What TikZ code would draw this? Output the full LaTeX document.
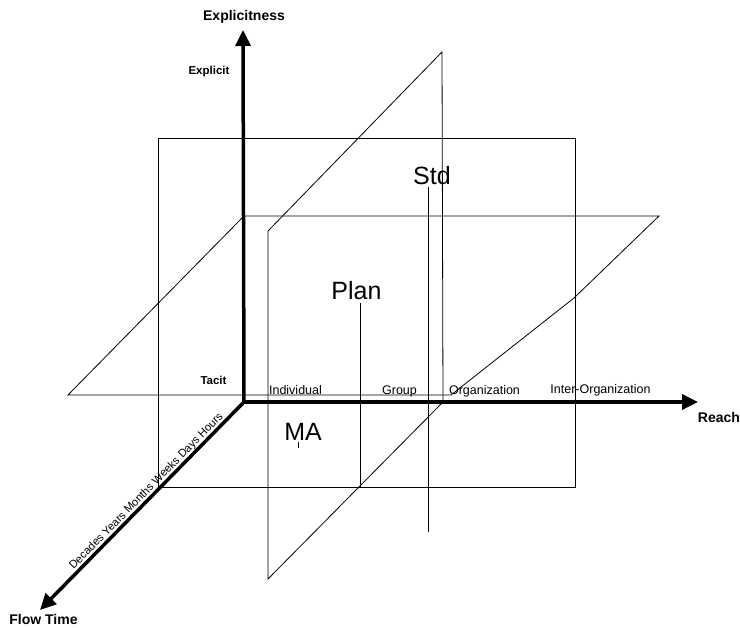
\documentclass[tikz,border=0pt]{standalone}
\usepackage{fontspec}
\setmainfont{Liberation Sans}
\usetikzlibrary{arrows.meta}
\begin{document}
\begin{tikzpicture}[x=1pt,y=-1pt,
  plane/.style={line width=0.8pt, line join=miter},
  axisline/.style={line width=3.5pt, -{Triangle[length=16pt,width=15pt]}},
  tick/.style={font=\fontsize{12.5}{14}\selectfont, inner sep=0pt, anchor=base},
  axlbl/.style={font=\bfseries\fontsize{14}{16}\selectfont, inner sep=0pt, anchor=base},
  endlbl/.style={font=\bfseries\fontsize{11.5}{13}\selectfont, inner sep=0pt, anchor=base},
  biglbl/.style={font=\fontsize{25}{28}\selectfont, inner sep=0pt, anchor=base},
  timelbl/.style={font=\fontsize{11.2}{13}\selectfont, inner sep=0pt, anchor=base, rotate=45.6}]
\useasboundingbox (0,0) rectangle (740,628);
% planes
\draw[plane] (158,138) rectangle (575,487);
\draw[plane] (244,216) -- (659,216) -- (574,298) -- (451,395) -- (68,395) -- cycle;
\draw[plane] (268,231) -- (442,52) -- (443,402) -- (268,579) -- cycle;
% axes
\coordinate (O) at (244,402);
\coordinate (Etip) at (243,30);
\coordinate (Rtip) at (698,402);
\coordinate (Ftip) at (40,610);
\draw[axisline] (O) -- (Etip);
\draw[axisline] (O) -- (Rtip);
\draw[axisline] (O) -- (Ftip);
% axis labels
\node[axlbl] (explicitness) at (244,21) {Explicitness};
\node[axlbl] (reach) at (719,423) {Reach};
\node[axlbl] (flowtime) at (43.5,624) {Flow Time};
\node[endlbl] (explicit) at (209,75) {Explicit};
\node[endlbl] (tacit) at (213.5,385) {Tacit};
% reach ticks
\node[tick] (individual) at (295.5,395) {Individual};
\node[tick] (group) at (399.5,395) {Group};
\node[tick] (organization) at (484.5,395) {Organization};
\node[tick] (interorg) at (600.5,394) {Inter-Organization};
% time ticks
\node[timelbl] (time) at (148.6,493.5) {Decades Years Months Weeks Days Hours};
% big labels
\node[biglbl] (std) at (432,185) {Std};
\node[biglbl] (plan) at (356.5,300) {Plan};
\node[biglbl] (ma) at (303,441) {MA};
\coordinate (stdend) at (428,532);
\coordinate (planend) at (360,487);
\draw[plane] (428,187) -- (stdend);
\draw[plane] (360,303) -- (planend);
\draw[plane] (298,442) -- (298,448);
\end{tikzpicture}
\end{document}
